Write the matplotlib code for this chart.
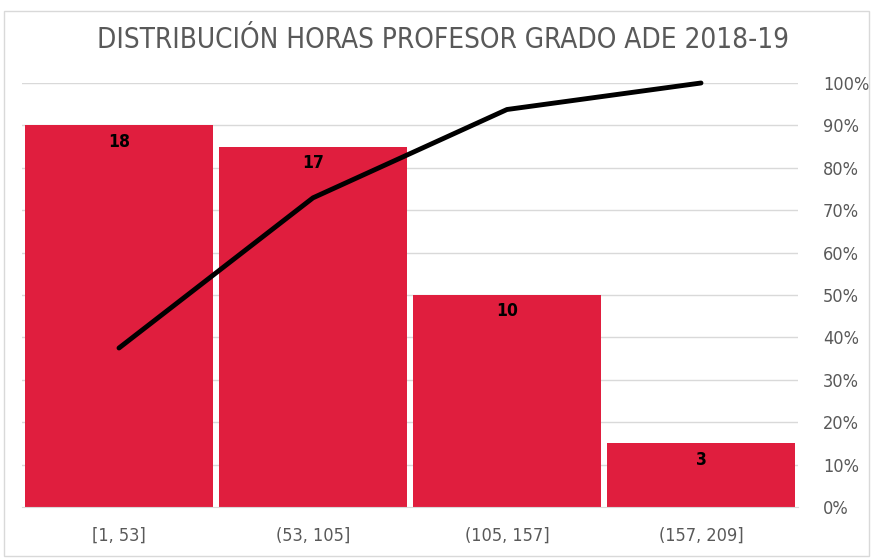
import matplotlib.pyplot as plt
import numpy as np
from matplotlib.ticker import PercentFormatter
from matplotlib.patches import Rectangle

# datos
categorias = ['[1, 53]', '(53, 105]', '(105, 157]', '(157, 209]']
frecuencias = [18, 17, 10, 3]
acumulado = np.cumsum(frecuencias) / np.sum(frecuencias)

plt.rcParams['font.family'] = ['DejaVu Sans']
plt.rcParams['font.stretch'] = 'condensed'

fig = plt.figure(figsize=(8.73, 5.59), dpi=100)
ax = fig.add_axes([22 / 873, 52 / 559, 776 / 873, 424 / 559])
ax2 = ax.twinx()

x = np.arange(len(categorias))
gris = '#595959'

# barras
bars = ax.bar(x, frecuencias, width=0.97, color='#e01e3e', zorder=2)
for b, v in zip(bars, frecuencias):
    ax.text(b.get_x() + b.get_width() / 2, v - 0.35, str(v), ha='center', va='top',
            fontsize=12.5, fontweight='bold', color='black')
ax.set_ylim(0, 20)
ax.set_xlim(-0.5, len(categorias) - 0.5)
ax.set_yticks([])
ax.set_xticks(x)
ax.set_xticklabels(categorias, fontsize=13, color=gris)
ax.tick_params(axis='x', length=0, pad=14)

# líneas de cuadrícula
for g in np.arange(0.1, 1.01, 0.1):
    ax.axhline(g * 20, color='#d9d9d9', lw=1, zorder=0)

# curva acumulada
ax2.plot(x, acumulado, color='black', lw=3.5, solid_capstyle='round', zorder=3, clip_on=False)
ax2.set_ylim(0, 1)
ax2.set_yticks(np.arange(0, 1.01, 0.1))
ax2.yaxis.set_major_formatter(PercentFormatter(1.0, decimals=0))
ax2.tick_params(axis='y', length=0, pad=18, labelsize=13, labelcolor=gris)

for s in ['top', 'left', 'right']:
    ax.spines[s].set_visible(False)
    ax2.spines[s].set_visible(False)
ax.spines['bottom'].set_color('#d9d9d9')
ax2.spines['bottom'].set_visible(False)

fig.text(0.507, 0.928, 'DISTRIBUCIÓN HORAS PROFESOR GRADO ADE 2018-19', ha='center', va='center',
         fontsize=20, color=gris)
fig.patches.append(Rectangle((0.005, 0.005), 0.99, 0.975, transform=fig.transFigure,
                             fill=False, edgecolor='#d9d9d9', lw=1))

fig.savefig('out.png', dpi=100)
